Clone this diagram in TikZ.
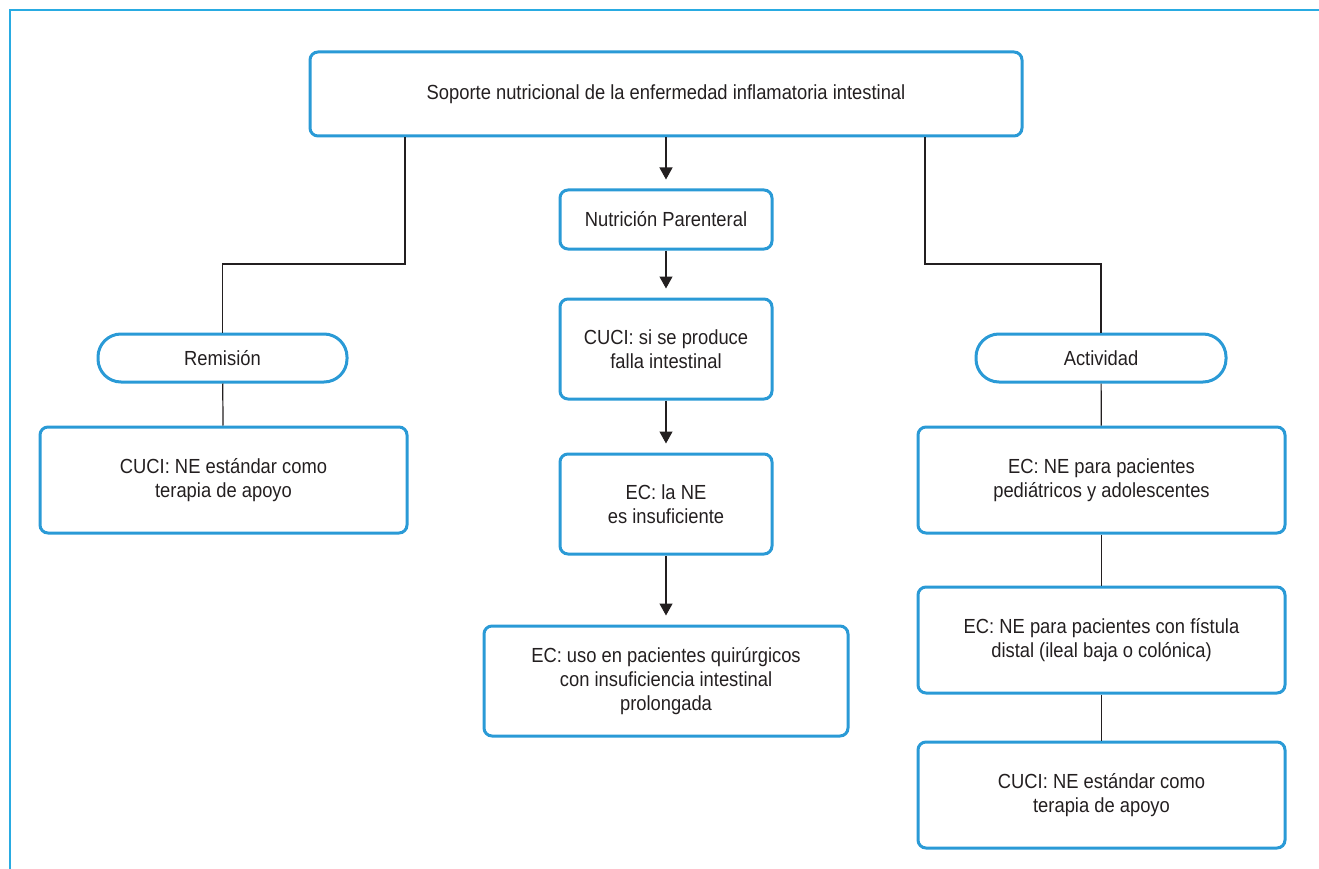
\documentclass[tikz,border=0pt]{standalone}
\usepackage{fontspec}
\setmainfont{Liberation Sans}[FakeStretch=0.9]
\usetikzlibrary{arrows.meta}
\definecolor{boxblue}{HTML}{2A9AD6}
\definecolor{frameblue}{HTML}{29ABE2}
\definecolor{ink}{HTML}{231F20}
\begin{document}
\begin{tikzpicture}[x=1pt,y=-1pt,
  box/.style={draw=boxblue,line width=3pt,rounded corners=8pt,
    inner sep=0pt,align=center,text=ink,
    font=\fontsize{20.4}{24}\selectfont},
  pill/.style={box,rounded corners=23pt},
  link/.style={draw=ink,line width=1.2pt},
  arr/.style={link,-{Triangle[length=12pt,width=13pt]},shorten >=9pt}]
\useasboundingbox (0,0) rectangle (1319,869);
% outer frame
\draw[frameblue,line width=2pt] (1319,10) -- (10,10) -- (10,869);

% nodes
\node[box,minimum width=712pt,minimum height=84pt] (top) at (666,94)
  {Soporte nutricional de la enfermedad inflamatoria intestinal};
\node[box,minimum width=212pt,minimum height=59pt] (np) at (666,219.5)
  {Nutrición Parenteral};
\node[box,minimum width=212pt,minimum height=100pt] (c1) at (666,349)
  {CUCI: si se produce\\falla intestinal};
\node[box,minimum width=212pt,minimum height=100pt] (e1) at (666,504)
  {EC: la NE\\es insuficiente};
\node[box,minimum width=364pt,minimum height=110pt] (e2) at (666,681)
  {EC: uso en pacientes quirúrgicos\\con insuficiencia intestinal\\prolongada};

\node[pill,minimum width=249pt,minimum height=48pt] (rem) at (222.5,358)
  {Remisión};
\node[box,minimum width=367pt,minimum height=106pt] (rb) at (223.5,480)
  {CUCI: NE estándar como\\terapia de apoyo};

\node[pill,minimum width=250pt,minimum height=48pt] (act) at (1101,358)
  {Actividad};
\node[box,minimum width=367pt,minimum height=106pt] (a1) at (1101.5,480)
  {EC: NE para pacientes\\pediátricos y adolescentes};
\node[box,minimum width=367pt,minimum height=106pt] (a2) at (1101.5,640)
  {EC: NE para pacientes con fístula\\distal (ileal baja o colónica)};
\node[box,minimum width=367pt,minimum height=106pt] (a3) at (1101.5,795)
  {CUCI: NE estándar como\\terapia de apoyo};

% connectors
\coordinate (lk) at (405,264);
\coordinate (rk) at (925,264);
\draw[link] (lk |- top.south) -- (lk) -| (rem.north);
\draw[link] (rk |- top.south) -- (rk) -| (act.north);
\draw[arr] (top) -- (np);
\draw[arr] (np) -- (c1);
\draw[arr] (c1) -- (e1);
\draw[arr] (e1) -- (e2);
\draw[link] (rem) -- (rb);
\draw[link] (act) -- (a1);
\draw[link] (a1) -- (a2);
\draw[link] (a2) -- (a3);
\end{tikzpicture}
\end{document}
